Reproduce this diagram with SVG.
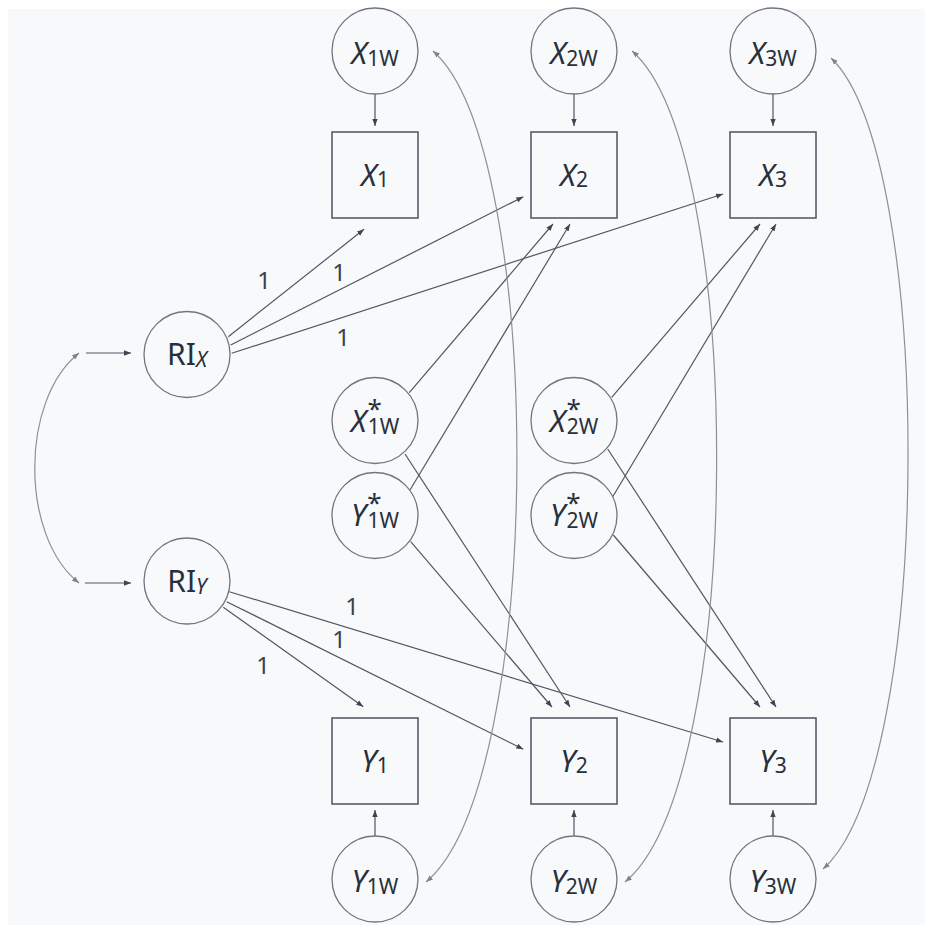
<svg xmlns="http://www.w3.org/2000/svg" width="925" height="925" viewBox="0 0 925 925">
  <defs>
    <style>
      .bg { fill: #f8f9fa; }
      .node circle { fill: none; stroke: #6f7680; stroke-width: 1.3; }
      .node rect { fill: none; stroke: #4a5360; stroke-width: 1.5; }
      .lbl { font-family: "Noto Sans", "Open Sans", sans-serif; font-size: 30px; fill: #27303c; text-anchor: middle; }
      .it { font-style: italic; }
      .sub { font-size: 21px; }
      .sup { font-size: 26px; }
      .num { font-family: "Noto Sans", "Open Sans", sans-serif; font-size: 24px; fill: #3a4350; text-anchor: middle; }
      .edge { fill: none; stroke: #4f5763; stroke-width: 1.2; marker-end: url(#arr); }
      .cov { fill: none; stroke: #8c9198; stroke-width: 1.2; marker-start: url(#arrc); marker-end: url(#arrc); }
    </style>
    <marker id="arr" viewBox="0 0 10 10" refX="10" refY="5" markerWidth="7" markerHeight="7" markerUnits="userSpaceOnUse" orient="auto-start-reverse">
      <path d="M0,1.2 L10,5 L0,8.8 z" fill="#3d4552"/>
    </marker>
    <marker id="arrc" viewBox="0 0 10 10" refX="10" refY="5" markerWidth="7" markerHeight="7" markerUnits="userSpaceOnUse" orient="auto-start-reverse">
      <path d="M0,1.2 L10,5 L0,8.8 z" fill="#7d838b"/>
    </marker>
  </defs>

  <rect class="bg" x="8" y="9" width="917" height="916"/>

  <!-- connectors -->
  <g id="connectors">
    <!-- inputs to random intercepts -->
    <path class="edge" d="M86,353 L131,353"/>
    <path class="edge" d="M85,583 L131,583"/>
    <!-- random intercept loadings -->
    <path class="edge" d="M228.3,336.7 L364,229.3"/>
    <path class="edge" d="M230.7,345 L523.3,196.7"/>
    <path class="edge" d="M231.7,353.3 L723,194"/>
    <path class="edge" d="M223.3,607.3 L363.3,706.7"/>
    <path class="edge" d="M226.7,601.7 L523.3,749.3"/>
    <path class="edge" d="M229.3,591.7 L723,742"/>
    <!-- within components to observed -->
    <path class="edge" d="M375,94 L375,126"/>
    <path class="edge" d="M574,94 L574,126"/>
    <path class="edge" d="M773,94 L773,126"/>
    <path class="edge" d="M375,836 L375,810"/>
    <path class="edge" d="M574,836 L574,810"/>
    <path class="edge" d="M773,836 L773,810"/>
    <!-- lagged paths -->
    <path class="edge" d="M409.3,392.7 L553,224"/>
    <path class="edge" d="M410,490 L570,224"/>
    <path class="edge" d="M405,454 L570,707"/>
    <path class="edge" d="M410.7,541.7 L552,707"/>
    <path class="edge" d="M611.7,397.3 L760,224"/>
    <path class="edge" d="M612.7,496.7 L776,224"/>
    <path class="edge" d="M607.7,449 L776,707"/>
    <path class="edge" d="M613.3,535 L760,707"/>
    <!-- covariances -->
    <path class="cov" d="M79,353 C20,400 20,536 79,583"/>
    <path class="cov" d="M433,51 C546,150 546,782 426,882"/>
    <path class="cov" d="M632,51 C746,150 746,782 625,882"/>
    <path class="cov" d="M831,58 C935,157 935,770 823,869"/>
  </g>

  <!-- loading labels -->
  <g id="labels">
    <text class="num" x="264" y="289">1</text>
    <text class="num" x="339" y="281">1</text>
    <text class="num" x="343" y="346">1</text>
    <text class="num" x="352" y="615">1</text>
    <text class="num" x="339" y="648">1</text>
    <text class="num" x="263" y="674">1</text>
  </g>

  <!-- within components, top row -->
  <g id="X1w" class="node"><circle cx="375" cy="51" r="43"/><text class="lbl" x="375" y="64"><tspan class="it">X</tspan><tspan class="sub" dy="2">1W</tspan></text></g>
  <g id="X2w" class="node"><circle cx="574" cy="51" r="43"/><text class="lbl" x="574" y="64"><tspan class="it">X</tspan><tspan class="sub" dy="2">2W</tspan></text></g>
  <g id="X3w" class="node"><circle cx="773" cy="51" r="43"/><text class="lbl" x="773" y="64"><tspan class="it">X</tspan><tspan class="sub" dy="2">3W</tspan></text></g>

  <!-- observed X -->
  <g id="X1" class="node"><rect x="332" y="132" width="86" height="86"/><text class="lbl" x="375" y="186"><tspan class="it">X</tspan><tspan class="sub" dy="1">1</tspan></text></g>
  <g id="X2" class="node"><rect x="531" y="132" width="86" height="86"/><text class="lbl" x="574" y="186"><tspan class="it">X</tspan><tspan class="sub" dy="1">2</tspan></text></g>
  <g id="X3" class="node"><rect x="730" y="132" width="86" height="86"/><text class="lbl" x="773" y="186"><tspan class="it">X</tspan><tspan class="sub" dy="1">3</tspan></text></g>

  <!-- random intercepts -->
  <g id="RIx" class="node"><circle cx="187" cy="354.5" r="43"/><text class="lbl" x="187" y="365">RI<tspan class="sub it" dy="2">X</tspan></text></g>
  <g id="RIy" class="node"><circle cx="187" cy="581" r="43"/><text class="lbl" x="187" y="592">RI<tspan class="sub it" dy="2">Y</tspan></text></g>

  <!-- lagged within components (asterisk set above the subscript) -->
  <g id="X1ws" class="node"><circle cx="375" cy="420.5" r="43"/><text class="lbl" x="375" y="432"><tspan class="it">X</tspan><tspan class="sup" dx="1" dy="-14">*</tspan><tspan class="sub" dx="-14" dy="16">1W</tspan></text></g>
  <g id="Y1ws" class="node"><circle cx="375" cy="515.5" r="43"/><text class="lbl" x="375" y="526"><tspan class="it">Y</tspan><tspan class="sup" dx="1" dy="-14">*</tspan><tspan class="sub" dx="-14" dy="16">1W</tspan></text></g>
  <g id="X2ws" class="node"><circle cx="574" cy="420.5" r="43"/><text class="lbl" x="574" y="432"><tspan class="it">X</tspan><tspan class="sup" dx="1" dy="-14">*</tspan><tspan class="sub" dx="-14" dy="16">2W</tspan></text></g>
  <g id="Y2ws" class="node"><circle cx="574" cy="515.5" r="43"/><text class="lbl" x="574" y="526"><tspan class="it">Y</tspan><tspan class="sup" dx="1" dy="-14">*</tspan><tspan class="sub" dx="-14" dy="16">2W</tspan></text></g>

  <!-- observed Y -->
  <g id="Y1" class="node"><rect x="332" y="718" width="86" height="86"/><text class="lbl" x="375" y="772"><tspan class="it">Y</tspan><tspan class="sub" dy="1">1</tspan></text></g>
  <g id="Y2" class="node"><rect x="531" y="718" width="86" height="86"/><text class="lbl" x="574" y="772"><tspan class="it">Y</tspan><tspan class="sub" dy="1">2</tspan></text></g>
  <g id="Y3" class="node"><rect x="730" y="718" width="86" height="86"/><text class="lbl" x="773" y="772"><tspan class="it">Y</tspan><tspan class="sub" dy="1">3</tspan></text></g>

  <!-- within components, bottom row -->
  <g id="Y1w" class="node"><circle cx="375" cy="879" r="43"/><text class="lbl" x="375" y="892"><tspan class="it">Y</tspan><tspan class="sub" dy="2">1W</tspan></text></g>
  <g id="Y2w" class="node"><circle cx="574" cy="879" r="43"/><text class="lbl" x="574" y="892"><tspan class="it">Y</tspan><tspan class="sub" dy="2">2W</tspan></text></g>
  <g id="Y3w" class="node"><circle cx="773" cy="879" r="43"/><text class="lbl" x="773" y="892"><tspan class="it">Y</tspan><tspan class="sub" dy="2">3W</tspan></text></g>
</svg>
